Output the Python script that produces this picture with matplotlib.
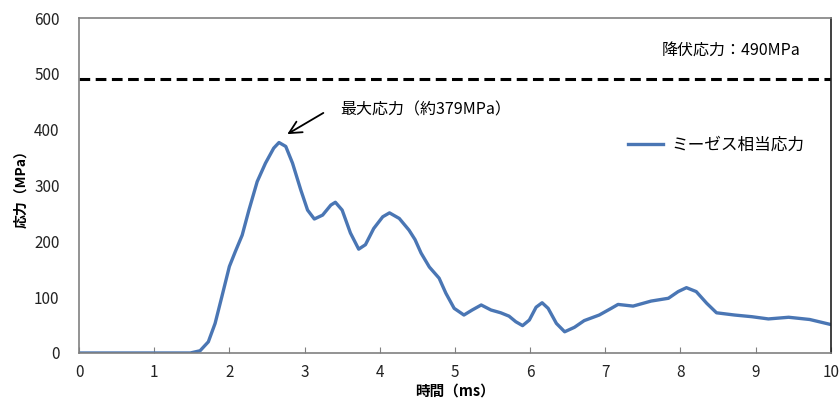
import matplotlib
matplotlib.use("Agg")
from matplotlib import pyplot as plt

plt.rcParams['font.family'] = ['Noto Sans CJK JP', 'DejaVu Sans']

# time (ms) and von Mises equivalent stress (MPa)
time_ms = [0.0, 0.5, 1.0, 1.48, 1.61, 1.72, 1.81, 1.90, 2.00, 2.08, 2.17,
           2.26, 2.37, 2.48, 2.59, 2.66, 2.75, 2.84, 2.95, 3.04, 3.13, 3.24,
           3.35, 3.41, 3.50, 3.61, 3.72, 3.81, 3.92, 4.04, 4.13, 4.26, 4.39,
           4.47, 4.55, 4.66, 4.79, 4.88, 4.99, 5.12, 5.23, 5.35, 5.48, 5.61,
           5.72, 5.81, 5.90, 5.99, 6.08, 6.16, 6.24, 6.35, 6.46, 6.59, 6.72,
           6.92, 7.08, 7.17, 7.37, 7.61, 7.84, 7.97, 8.08, 8.21, 8.35, 8.48,
           8.72, 8.95, 9.17, 9.44, 9.72, 10.0]
stress = [0, 0, 0, 0, 4, 20, 53, 101, 155, 182, 211,
          256, 307, 340, 367, 377, 370, 340, 292, 256, 240, 247,
          265, 270, 256, 215, 186, 194, 223, 244, 251, 241, 220,
          203, 179, 154, 134, 107, 80, 68, 77, 86, 77, 72,
          66, 56, 49, 59, 82, 90, 80, 53, 38, 46, 58,
          68, 80, 87, 84, 93, 98, 110, 117, 110, 89, 72,
          68, 65, 61, 64, 60, 51]

yield_stress = 490
series_label = 'ミーゼス相当応力'
yield_label = '降伏応力：490MPa'
peak_label = '最大応力（約379MPa）'

fig = plt.figure(figsize=(8.39, 4.07), dpi=100)
ax = fig.add_axes([0.0942, 0.1327, 0.896, 0.823])

ax.plot(time_ms, stress, color='#4a76b4', linewidth=2.4, label=series_label,
        solid_joinstyle='round')
ax.axhline(yield_stress, color='black', linestyle=(0, (3.5, 1.8)), linewidth=2.2)

ax.set_xlim(0, 10)
ax.set_ylim(0, 600)
ax.set_xticks(range(0, 11))
ax.set_yticks(range(0, 601, 100))

for s in ax.spines.values():
    s.set_color('#808080')
    s.set_linewidth(1.2)
ax.spines['right'].set_color('#202020')
ax.tick_params(axis='x', direction='in', length=4, color='#808080',
               labelsize=11, pad=8, labelcolor='#222222')
ax.tick_params(axis='y', length=0, labelsize=11, pad=14, labelcolor='#222222')

ax.set_xlabel('時間（ms）', fontsize=10.5, fontweight='bold', labelpad=1)
ax.set_ylabel('応力（MPa）', fontsize=10, fontweight='bold', labelpad=4)

ax.text(7.75, 540, yield_label, fontsize=11.5, va='center')
ax.text(3.48, 435, peak_label, fontsize=11.5, va='center')
ax.annotate('', xy=(2.77, 392), xytext=(3.25, 430),
            arrowprops=dict(arrowstyle='->', color='black', lw=1.3,
                            mutation_scale=22, shrinkA=0, shrinkB=0))

ax.legend(loc='upper right', bbox_to_anchor=(0.985, 0.69), frameon=False,
          fontsize=12, handlelength=2.1, handletextpad=0.5)

fig.savefig('out.png', dpi=100)
